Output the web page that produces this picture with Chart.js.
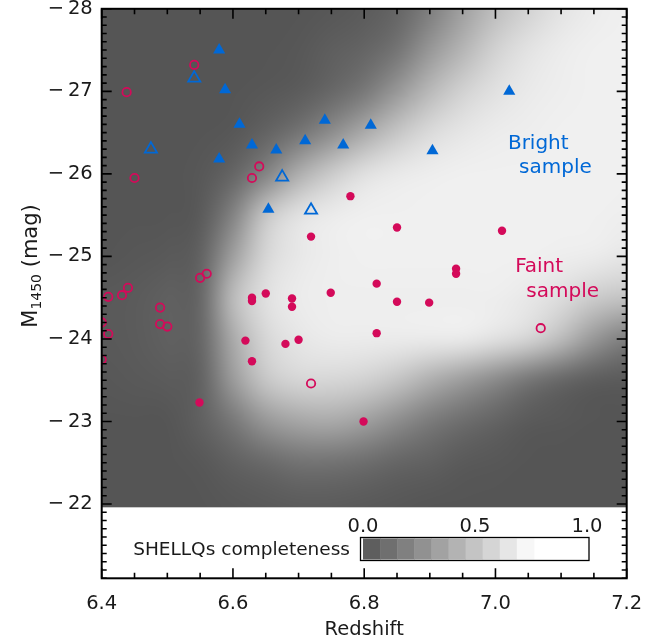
<!DOCTYPE html>
<html>
<head>
<meta charset="utf-8">
<script src="https://cdn.jsdelivr.net/npm/chart.js@4.4.1/dist/chart.umd.min.js"></script>
<style>
  html, body { margin: 0; padding: 0; background: #fff; }
  #wrap { width: 659px; height: 644px; }
</style>
</head>
<body>
<div id="wrap"><canvas id="chart" width="659" height="644"></canvas></div>
<script>
// ======= DATA =======
const xTicks = [6.4, 6.6, 6.8, 7.0, 7.2];
const yTicks = [-28, -27, -26, -25, -24, -23, -22];
const cbTicks = [0.0, 0.5, 1.0];

// [redshift, M1450]
const faintFilled = [
  [6.779, -25.73], [6.719, -25.24], [6.819, -24.67], [6.629, -24.50], [6.629, -24.46],
  [6.650, -24.55], [6.690, -24.49], [6.690, -24.39], [6.749, -24.56], [6.819, -24.07],
  [6.619, -23.98], [6.680, -23.94], [6.700, -23.99], [6.629, -23.73], [6.549, -23.23],
  [6.799, -23.00], [6.850, -25.35], [7.010, -25.31], [6.940, -24.85], [6.940, -24.79],
  [6.850, -24.45], [6.899, -24.44]
];
const faintOpen = [
  [6.541, -27.32], [6.438, -26.99], [6.450, -25.95], [6.640, -26.09], [6.629, -25.95],
  [6.560, -24.79], [6.550, -24.74], [6.440, -24.62], [6.431, -24.53], [6.410, -24.51],
  [6.489, -24.38], [6.489, -24.18], [6.500, -24.15], [6.400, -24.20], [6.410, -24.06],
  [6.400, -23.75], [6.719, -23.46], [7.069, -24.13]
];
const brightFilled = [
  [6.579, -27.50], [6.588, -27.02], [6.610, -26.60], [6.579, -26.18], [6.629, -26.35],
  [6.666, -26.29], [6.710, -26.40], [6.740, -26.65], [6.768, -26.35], [6.810, -26.59],
  [6.904, -26.28], [7.021, -27.00], [6.654, -25.57]
];
const brightOpen = [
  [6.541, -27.16], [6.475, -26.30], [6.675, -25.96], [6.719, -25.56]
];

// completeness map: columns = compZ, rows = compM
const compZ = [6.40, 6.45, 6.50, 6.55, 6.60, 6.65, 6.70, 6.75, 6.80, 6.85, 6.90, 6.95, 7.00, 7.05, 7.10, 7.15, 7.20];
const compM = [-28.0, -27.5, -27.0, -26.5, -26.0, -25.5, -25.0, -24.5, -24.0, -23.5, -23.0, -22.5, -22.0];
const completeness = [
  [0, 0, 0, 0, 0, 0, 0, 0.01, 0.03, 0.07, 0.19, 0.35, 0.49, 0.59, 0.67, 0.71, 0.73],
  [0, 0, 0, 0, 0, 0, 0.01, 0.04, 0.07, 0.14, 0.31, 0.45, 0.59, 0.67, 0.71, 0.73, 0.73],
  [0, 0, 0, 0, 0, 0.01, 0.03, 0.08, 0.16, 0.31, 0.47, 0.59, 0.66, 0.70, 0.72, 0.73, 0.73],
  [0, 0, 0, 0, 0.01, 0.06, 0.14, 0.26, 0.40, 0.53, 0.63, 0.68, 0.71, 0.72, 0.73, 0.73, 0.73],
  [0, 0, 0, 0.01, 0.07, 0.21, 0.42, 0.56, 0.66, 0.70, 0.72, 0.73, 0.73, 0.73, 0.73, 0.73, 0.73],
  [0, 0, 0, 0.02, 0.21, 0.54, 0.67, 0.71, 0.73, 0.73, 0.73, 0.73, 0.73, 0.73, 0.73, 0.73, 0.72],
  [0, 0.01, 0.02, 0.05, 0.35, 0.61, 0.69, 0.72, 0.73, 0.73, 0.73, 0.73, 0.73, 0.73, 0.72, 0.71, 0.68],
  [0.02, 0.03, 0.05, 0.07, 0.49, 0.66, 0.71, 0.72, 0.72, 0.72, 0.72, 0.72, 0.72, 0.69, 0.64, 0.56, 0.52],
  [0.02, 0.03, 0.05, 0.07, 0.40, 0.61, 0.68, 0.71, 0.71, 0.71, 0.71, 0.71, 0.67, 0.61, 0.49, 0.31, 0.19],
  [0.01, 0.02, 0.03, 0.05, 0.33, 0.54, 0.61, 0.61, 0.59, 0.52, 0.42, 0.33, 0.24, 0.14, 0.07, 0.03, 0.02],
  [0, 0, 0, 0.05, 0.16, 0.31, 0.38, 0.40, 0.35, 0.26, 0.17, 0.11, 0.06, 0.02, 0.01, 0, 0],
  [0, 0, 0, 0.01, 0.05, 0.09, 0.13, 0.13, 0.11, 0.07, 0.05, 0.02, 0.01, 0, 0, 0, 0],
  [0, 0, 0, 0, 0.01, 0.02, 0.03, 0.03, 0.02, 0.01, 0, 0, 0, 0, 0, 0, 0]
];

// ======= STYLE =======
const FONT = "'DejaVu Sans', sans-serif";
const TXT = "#1a1a1a";
const RED = "#d40a5a";
const BLUE = "#0068d6";

const gray = (c) => Math.round(85 + 170 * Math.min(Math.max(c / 0.8, 0), 1));
const toPts = (arr) => arr.map(([x, y]) => ({ x, y }));

// grey completeness map behind the points
const heatmap = {
  id: "heatmap",
  beforeDatasetsDraw(chart) {
    const { ctx, chartArea: a, scales: { x, y } } = chart;
    const nx = compZ.length, ny = compM.length;
    const off = document.createElement("canvas");
    off.width = nx;
    off.height = ny;
    const octx = off.getContext("2d");
    const img = octx.createImageData(nx, ny);
    completeness.forEach((row, j) =>
      row.forEach((c, i) => {
        const k = (j * nx + i) * 4, g = gray(c);
        img.data[k] = img.data[k + 1] = img.data[k + 2] = g;
        img.data[k + 3] = 255;
      })
    );
    octx.putImageData(img, 0, 0);
    const dz = compZ[1] - compZ[0], dm = compM[1] - compM[0];
    const x0 = x.getPixelForValue(compZ[0] - dz / 2);
    const x1 = x.getPixelForValue(compZ[nx - 1] + dz / 2);
    const y0 = y.getPixelForValue(compM[0] - dm / 2);
    const y1 = y.getPixelForValue(compM[ny - 1] + dm / 2);
    ctx.save();
    ctx.beginPath();
    ctx.rect(a.left, a.top, a.width, a.height);
    ctx.clip();
    ctx.imageSmoothingEnabled = true;
    ctx.imageSmoothingQuality = "high";
    ctx.drawImage(off, x0, y0, x1 - x0, y1 - y0);
    ctx.restore();
  },
};

// white strip at the bottom with the colour bar
const inset = {
  id: "inset",
  afterDatasetsDraw(chart) {
    const { ctx, chartArea: a, scales: { y } } = chart;
    const top = y.getPixelForValue(-21.96);
    ctx.save();
    ctx.fillStyle = "#fff";
    ctx.fillRect(a.left, top, a.width, a.bottom - top);

    const cbL = 363, cbR = 587, cbT = 538.5, cbB = 559.5;
    const px = (v) => cbL + v * (cbR - cbL);
    const n = 10, span = 0.763;
    for (let i = 0; i < n; i++) {
      ctx.fillStyle = "rgb(" + Array(3).fill(gray((i + 0.5) * 0.08)).join(",") + ")";
      ctx.fillRect(px((i * span) / n), cbT, px(((i + 1) * span) / n) - px((i * span) / n) + 0.5, cbB - cbT);
    }
    ctx.strokeStyle = "#000";
    ctx.lineWidth = 1.3;
    ctx.strokeRect(360.5, 537.5, 228.5, 23);

    ctx.fillStyle = TXT;
    ctx.font = "19.5px " + FONT;
    ctx.textAlign = "center";
    ctx.textBaseline = "middle";
    cbTicks.forEach((v) => ctx.fillText(v.toFixed(1), px(v), 527));
    ctx.font = "18.5px " + FONT;
    ctx.textAlign = "right";
    ctx.fillText("SHELLQs completeness", 350, 550);
    ctx.restore();
  },
};

// sample labels
const notes = {
  id: "notes",
  afterDatasetsDraw(chart) {
    const { ctx, scales: { x, y } } = chart;
    ctx.save();
    ctx.font = "20px " + FONT;
    ctx.textAlign = "left";
    ctx.textBaseline = "middle";
    ctx.fillStyle = BLUE;
    ctx.fillText("Bright", x.getPixelForValue(7.019), y.getPixelForValue(-26.37));
    ctx.fillText("sample", x.getPixelForValue(7.036), y.getPixelForValue(-26.07));
    ctx.fillStyle = RED;
    ctx.fillText("Faint", x.getPixelForValue(7.030), y.getPixelForValue(-24.88));
    ctx.fillText("sample", x.getPixelForValue(7.047), y.getPixelForValue(-24.57));
    ctx.restore();
  },
};

// IDL style box: inward ticks on all four sides + axis titles
const frame = {
  id: "frame",
  afterDraw(chart) {
    const { ctx, chartArea: a, scales: { x, y } } = chart;
    ctx.save();
    ctx.strokeStyle = "#000";
    ctx.lineWidth = 1.6;
    ctx.beginPath();
    for (let i = 0; i <= 16; i++) {
      const px = x.getPixelForValue(6.4 + i * 0.05);
      const len = i % 4 === 0 ? 10 : 5.5;
      ctx.moveTo(px, a.bottom);
      ctx.lineTo(px, a.bottom - len);
      ctx.moveTo(px, a.top);
      ctx.lineTo(px, a.top + len);
    }
    for (let i = 0; i <= 69; i++) {
      const py = y.getPixelForValue(-28 + i * 0.1);
      const len = i % 10 === 0 ? 10 : 5;
      ctx.moveTo(a.left, py);
      ctx.lineTo(a.left + len, py);
      ctx.moveTo(a.right, py);
      ctx.lineTo(a.right - len, py);
    }
    ctx.stroke();
    ctx.lineWidth = 2;
    ctx.strokeRect(a.left, a.top, a.right - a.left, a.bottom - a.top);

    ctx.fillStyle = TXT;
    ctx.textBaseline = "alphabetic";
    ctx.textAlign = "center";
    ctx.font = "19.5px " + FONT;
    ctx.fillText("Redshift", (a.left + a.right) / 2, 635);

    // y title with subscript, rotated
    const big = "21px " + FONT, small = "14px " + FONT;
    ctx.font = big;
    const wM = ctx.measureText("M").width;
    const wT = ctx.measureText(" (mag)").width;
    ctx.font = small;
    const wS = ctx.measureText("1450").width;
    const total = wM + wS + wT;
    ctx.translate(29, 266);
    ctx.rotate(-Math.PI / 2);
    ctx.textAlign = "left";
    let cx = -total / 2;
    ctx.font = big;
    ctx.fillText("M", cx, 7.5);
    cx += wM;
    ctx.font = small;
    ctx.fillText("1450", cx, 12);
    cx += wS;
    ctx.font = big;
    ctx.fillText(" (mag)", cx, 7.5);
    ctx.restore();
  },
};

new Chart(document.getElementById("chart"), {
  type: "scatter",
  data: {
    datasets: [
      {
        label: "Faint sample",
        data: toPts(faintFilled),
        pointStyle: "circle",
        pointRadius: 4.2,
        pointBackgroundColor: RED,
        pointBorderColor: RED,
        pointBorderWidth: 0,
        clip: 0,
      },
      {
        label: "Faint sample (open)",
        data: toPts(faintOpen),
        pointStyle: "circle",
        pointRadius: 4.2,
        pointBackgroundColor: "rgba(0,0,0,0)",
        pointBorderColor: RED,
        pointBorderWidth: 1.8,
        clip: 0,
      },
      {
        label: "Bright sample",
        data: toPts(brightFilled),
        pointStyle: "triangle",
        pointRadius: 7,
        pointBackgroundColor: BLUE,
        pointBorderColor: BLUE,
        pointBorderWidth: 0,
        clip: 0,
      },
      {
        label: "Bright sample (open)",
        data: toPts(brightOpen),
        pointStyle: "triangle",
        pointRadius: 7,
        pointBackgroundColor: "rgba(0,0,0,0)",
        pointBorderColor: BLUE,
        pointBorderWidth: 1.8,
        clip: 0,
      },
    ],
  },
  options: {
    responsive: false,
    animation: false,
    devicePixelRatio: 1,
    events: [],
    layout: { padding: { top: 6.7, right: 32.3, bottom: 0, left: 0 } },
    plugins: { legend: { display: false }, tooltip: { enabled: false } },
    scales: {
      x: {
        type: "linear",
        min: 6.4,
        max: 7.2,
        afterBuildTicks: (s) => {
          s.ticks = xTicks.map((v) => ({ value: v }));
        },
        afterFit: (s) => {
          s.height = 65.7;
          s.paddingLeft = 0;
          s.paddingRight = 0;
        },
        grid: { display: false, drawTicks: false },
        border: { display: false },
        ticks: {
          padding: 14,
          color: TXT,
          maxRotation: 0,
          autoSkip: false,
          font: { family: FONT, size: 19.5 },
          callback: (v) => Number(v).toFixed(1),
        },
      },
      y: {
        type: "linear",
        reverse: true,
        min: -28,
        max: -21.1,
        afterBuildTicks: (s) => {
          s.ticks = yTicks.map((v) => ({ value: v }));
        },
        afterFit: (s) => {
          s.width = 101.7;
          s.paddingTop = 0;
          s.paddingBottom = 0;
        },
        grid: { display: false, drawTicks: false },
        border: { display: false },
        ticks: {
          padding: 9,
          color: TXT,
          autoSkip: false,
          font: { family: FONT, size: 19.5 },
          callback: (v) => "\u2212\u2009" + Math.abs(v),
        },
      },
    },
  },
  plugins: [heatmap, inset, notes, frame],
});
</script>
</body>
</html>
